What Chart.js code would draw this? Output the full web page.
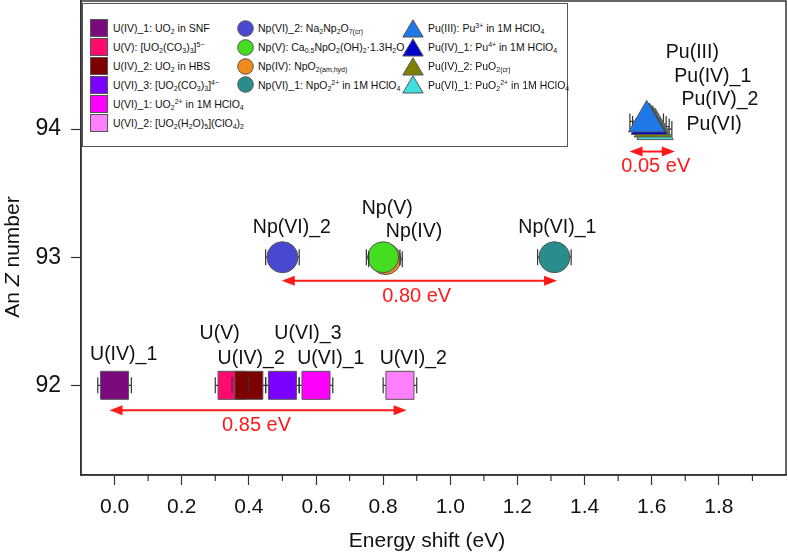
<!DOCTYPE html>
<html>
<head>
<meta charset="utf-8">
<script src="https://cdn.jsdelivr.net/npm/chart.js"></script>
<style>
  body { margin: 0; background: #fff; }
  #wrap { position: relative; width: 788px; height: 554px; }
  #legend { position: absolute; left: 82px; top: 3px; width: 484px; height: 142px; border: 1px solid #555; background: #fff;
            font-family: 'Liberation Sans', Arial, sans-serif; font-size: 10.5px; color: #111; }
  .item { position: absolute; display: flex; align-items: center; height: 18px; white-space: nowrap; }
  .item svg { flex: none; }
  sub, sup { font-size: 7px; line-height: 0; }
  sub { vertical-align: -2px; }
  sup { vertical-align: 4px; }
</style>
</head>
<body>
<div id="wrap">
  <canvas id="chart" width="788" height="554"></canvas>
  <div id="legend"></div>
</div>
<script>
// series
const seriesNames = ['U(IV)_1', 'U(V)', 'U(IV)_2', 'U(VI)_3', 'U(VI)_1', 'U(VI)_2',
                     'Np(VI)_2', 'Np(V)', 'Np(IV)', 'Np(VI)_1',
                     'Pu(III)', 'Pu(IV)_1', 'Pu(IV)_2', 'Pu(VI)_1'];
const legendTexts = [
  'U(IV)_1: UO<sub>2</sub> in SNF',
  'U(V): [UO<sub>2</sub>(CO<sub>3</sub>)<sub>3</sub>]<sup>5−</sup>',
  'U(IV)_2: UO<sub>2</sub> in HBS',
  'U(VI)_3: [UO<sub>2</sub>(CO<sub>3</sub>)<sub>3</sub>]<sup>4−</sup>',
  'U(VI)_1: UO<sub>2</sub><sup>2+</sup> in 1M HClO<sub>4</sub>',
  'U(VI)_2: [UO<sub>2</sub>(H<sub>2</sub>O)<sub>5</sub>](ClO<sub>4</sub>)<sub>2</sub>',
  'Np(VI)_2: Na<sub>2</sub>Np<sub>2</sub>O<sub>7(cr)</sub>',
  'Np(V): Ca<sub>0.5</sub>NpO<sub>2</sub>(OH)<sub>2</sub>·1.3H<sub>2</sub>O',
  'Np(IV): NpO<sub>2(am,hyd)</sub>',
  'Np(VI)_1: NpO<sub>2</sub><sup>2+</sup> in 1M HClO<sub>4</sub>',
  'Pu(III): Pu<sup>3+</sup> in 1M HClO<sub>4</sub>',
  'Pu(IV)_1: Pu<sup>4+</sup> in 1M HClO<sub>4</sub>',
  'Pu(IV)_2: PuO<sub>2(cr)</sub>',
  'Pu(VI)_1: PuO<sub>2</sub><sup>2+</sup> in 1M HClO<sub>4</sub>'
];
const energyShift = [0.00, 0.35, 0.40, 0.50, 0.60, 0.85, 0.50, 0.80, 0.807, 1.31, 1.585, 1.593, 1.602, 1.61];
const anNumber    = [92, 92, 92, 92, 92, 92, 93, 93, 92.985, 93, 94.06, 94.04, 94.02, 94.0];
const shiftError  = [0.05, 0.05, 0.05, 0.05, 0.05, 0.05, 0.05, 0.05, 0.05, 0.05, 0.05, 0.05, 0.05, 0.05];

const seriesColors = ['#7b0a7e', '#ff0a6e', '#7d0000', '#7a00ff', '#ff00ff', '#ff80ff',
                      '#4848d0', '#44dd22', '#f08a1c', '#2a8c8c',
                      '#1e78e6', '#0000cc', '#808000', '#40e0e0'];
const seriesShapes = ['rect', 'rect', 'rect', 'rect', 'rect', 'rect',
                      'circle', 'circle', 'circle', 'circle',
                      'triangle', 'triangle', 'triangle', 'triangle'];

const xTickValues = [0, 0.2, 0.4, 0.6, 0.8, 1.0, 1.2, 1.4, 1.6, 1.8];
const xMinorTicks = [0.1, 0.3, 0.5, 0.7, 0.9, 1.1, 1.3, 1.5, 1.7, 1.9];
const yTickValues = [92, 93, 94];

// text labels next to the points
const pointLabels = ['U(IV)_1', 'U(V)', 'U(IV)_2', 'U(VI)_3', 'U(VI)_1', 'U(VI)_2',
                     'Np(VI)_2', 'Np(V)', 'Np(IV)', 'Np(VI)_1',
                     'Pu(III)', 'Pu(IV)_1', 'Pu(IV)_2', 'Pu(VI)'];
const pointLabelX = [0.027, 0.313, 0.407, 0.576, 0.644, 0.89, 0.528, 0.812, 0.892, 1.319, 1.721, 1.782, 1.803, 1.786];
const pointLabelY = [92.24, 92.40, 92.21, 92.40, 92.21, 92.21, 93.23, 93.38, 93.20, 93.23, 94.60, 94.41, 94.23, 94.035];

// red range arrows
const rangeLabels = ['0.85 eV', '0.80 eV', '0.05 eV'];
const rangeFrom   = [-0.015, 0.498, 1.534];
const rangeTo     = [0.87, 1.318, 1.669];
const rangeY      = [91.805, 92.817, 93.825];
const rangeLabelX = [0.423, 0.90, 1.612];
const rangeLabelY = [91.69, 92.69, 93.71];

const radiusFor = { rect: 19.8, circle: 15.5, triangle: 21 };

const datasets = seriesNames.map((name, i) => ({
    label: name,
    data: [{ x: energyShift[i], y: anNumber[i] }],
    pointStyle: seriesShapes[i],
    pointRadius: radiusFor[seriesShapes[i]],
    pointHoverRadius: radiusFor[seriesShapes[i]],
    backgroundColor: seriesColors[i],
    borderColor: '#555',
    borderWidth: 1,
    // U(IV)_2 sits on top of U(V)
    order: i === 1 ? 2.5 : i
}));

const FONT = "'Liberation Sans', Arial, sans-serif";

function drawCaps(chart, onTop) {
    const { ctx, scales: { x, y } } = chart;
    ctx.save();
    ctx.strokeStyle = '#333';
    ctx.lineWidth = 1.2;
    energyShift.forEach((v, i) => {
        // triangle caps sit behind the stacked markers
        if ((seriesShapes[i] !== 'triangle') !== onTop) return;
        const py = y.getPixelForValue(anNumber[i]);
        [v - shiftError[i], v + shiftError[i]].forEach(e => {
            const px = x.getPixelForValue(e);
            ctx.beginPath();
            ctx.moveTo(px, py - 8);
            ctx.lineTo(px, py + 8);
            ctx.stroke();
        });
    });
    ctx.restore();
}

const extras = {
    id: 'extras',
    beforeDatasetsDraw(chart) {
        const { ctx, scales: { x, y } } = chart;
        ctx.save();
        ctx.strokeStyle = '#333';
        ctx.lineWidth = 1.2;
        energyShift.forEach((v, i) => {
            const py = y.getPixelForValue(anNumber[i]);
            ctx.beginPath();
            ctx.moveTo(x.getPixelForValue(v - shiftError[i]), py);
            ctx.lineTo(x.getPixelForValue(v + shiftError[i]), py);
            ctx.stroke();
        });
        ctx.restore();
        drawCaps(chart, false);
    },
    afterDatasetsDraw(chart) {
        drawCaps(chart, true);
    },
    afterDraw(chart) {
        const { ctx, chartArea: a, scales: { x, y } } = chart;
        ctx.save();

        // frame
        ctx.strokeStyle = '#333';
        ctx.lineWidth = 1.5;
        ctx.strokeRect(a.left, a.top, a.right - a.left, a.bottom - a.top);

        // minor x ticks
        ctx.lineWidth = 1.2;
        xMinorTicks.forEach(v => {
            const px = x.getPixelForValue(v);
            ctx.beginPath();
            ctx.moveTo(px, a.bottom);
            ctx.lineTo(px, a.bottom + 6);
            ctx.stroke();
        });

        // point labels
        ctx.fillStyle = '#111';
        ctx.font = '19.5px ' + FONT;
        ctx.textAlign = 'center';
        ctx.textBaseline = 'middle';
        pointLabels.forEach((t, i) => {
            ctx.fillText(t, x.getPixelForValue(pointLabelX[i]), y.getPixelForValue(pointLabelY[i]));
        });

        // red arrows
        ctx.strokeStyle = '#ff1a1a';
        ctx.fillStyle = '#ff1a1a';
        ctx.lineWidth = 2;
        rangeLabels.forEach((t, i) => {
            const x1 = x.getPixelForValue(rangeFrom[i]);
            const x2 = x.getPixelForValue(rangeTo[i]);
            const py = y.getPixelForValue(rangeY[i]);
            ctx.beginPath();
            ctx.moveTo(x1 + 8, py);
            ctx.lineTo(x2 - 8, py);
            ctx.stroke();
            ctx.beginPath();
            ctx.moveTo(x1, py); ctx.lineTo(x1 + 13, py - 5); ctx.lineTo(x1 + 13, py + 5); ctx.closePath();
            ctx.moveTo(x2, py); ctx.lineTo(x2 - 13, py - 5); ctx.lineTo(x2 - 13, py + 5); ctx.closePath();
            ctx.fill();
            ctx.font = '20px ' + FONT;
            ctx.fillText(t, x.getPixelForValue(rangeLabelX[i]), y.getPixelForValue(rangeLabelY[i]));
        });

        // axis titles
        ctx.fillStyle = '#111';
        ctx.font = '21px ' + FONT;
        ctx.fillText('Energy shift (eV)', 427, 541);

        ctx.translate(13, 257);
        ctx.rotate(-Math.PI / 2);
        ctx.textAlign = 'left';
        const parts = [['An ', 'normal'], ['Z', 'italic'], [' number', 'normal']];
        let total = 0;
        parts.forEach(p => { ctx.font = p[1] + ' 21px ' + FONT; total += ctx.measureText(p[0]).width; });
        let cx = -total / 2;
        parts.forEach(p => {
            ctx.font = p[1] + ' 21px ' + FONT;
            ctx.fillText(p[0], cx, 0);
            cx += ctx.measureText(p[0]).width;
        });
        ctx.restore();
    }
};

new Chart(document.getElementById('chart'), {
    type: 'scatter',
    data: { datasets: datasets },
    options: {
        responsive: false,
        animation: false,
        events: [],
        layout: { autoPadding: false, padding: { top: 1, right: 2, left: 0, bottom: 0 } },
        plugins: { legend: { display: false }, tooltip: { enabled: false } },
        scales: {
            x: {
                type: 'linear',
                min: -0.1,
                max: 2.0,
                afterBuildTicks: s => { s.ticks = xTickValues.map(v => ({ value: v })); },
                afterFit: s => { s.height = 79; s.paddingLeft = 0; s.paddingRight = 0; },
                ticks: {
                    autoSkip: false,
                    maxRotation: 0,
                    padding: 10,
                    color: '#111',
                    font: { family: FONT, size: 21 },
                    callback: v => Number(v).toFixed(1)
                },
                grid: { drawOnChartArea: false, tickLength: 10, tickColor: '#333', tickWidth: 1.2 },
                border: { color: '#333', width: 1.5 }
            },
            y: {
                type: 'linear',
                min: 91.3,
                max: 95.0,
                afterBuildTicks: s => { s.ticks = yTickValues.map(v => ({ value: v })); },
                afterFit: s => { s.width = 81; s.paddingTop = 0; s.paddingBottom = 0; },
                ticks: {
                    padding: 10,
                    color: '#111',
                    font: { family: FONT, size: 23 },
                    callback: v => String(v)
                },
                grid: { drawOnChartArea: false, tickLength: 10, tickColor: '#333', tickWidth: 1.2 },
                border: { color: '#333', width: 1.5 }
            }
        }
    },
    plugins: [extras]
});

// legend box with sub/superscripts
const legendCols = [
    { shape: 'rect', left: 7, textGap: 5, items: [0, 1, 2, 3, 4, 5] },
    { shape: 'circle', left: 154, textGap: 4, items: [6, 7, 8, 9] },
    { shape: 'triangle', left: 319, textGap: 4, items: [10, 11, 12, 13] }
];
const legendRowY = [24, 43, 62, 80.5, 99.5, 118.5];

function markerSvg(shape, color) {
    if (shape === 'rect') {
        return `<svg width="18" height="18"><rect x="0.5" y="0.5" width="17" height="17" fill="${color}" stroke="#555" stroke-width="1"/></svg>`;
    }
    if (shape === 'circle') {
        return `<svg width="17" height="17"><circle cx="8.5" cy="8.5" r="7.8" fill="${color}" stroke="#555" stroke-width="1"/></svg>`;
    }
    return `<svg width="22" height="19"><polygon points="11,0.8 21.2,18 0.8,18" fill="${color}" stroke="#555" stroke-width="1"/></svg>`;
}

const legendEl = document.getElementById('legend');
legendCols.forEach(col => {
    col.items.forEach((idx, row) => {
        const div = document.createElement('div');
        div.className = 'item';
        div.style.left = col.left + 'px';
        div.style.top = (legendRowY[row] - 9) + 'px';
        div.innerHTML = markerSvg(col.shape, seriesColors[idx]) +
            `<span style="margin-left:${col.textGap}px">${legendTexts[idx]}</span>`;
        legendEl.appendChild(div);
    });
});
</script>
</body>
</html>
